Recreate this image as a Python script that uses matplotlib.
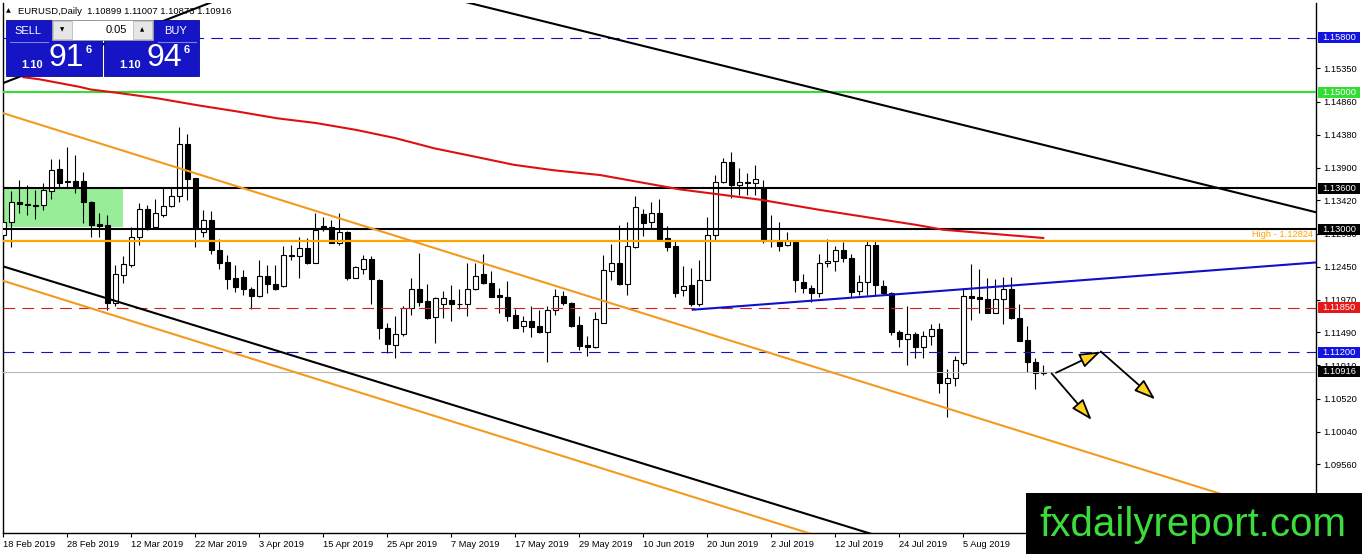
import matplotlib
matplotlib.use('Agg')
import matplotlib.pyplot as plt
from matplotlib.patches import Rectangle
from matplotlib.lines import Line2D
from matplotlib.transforms import IdentityTransform

W, H = 1362, 554
plt.rcParams['font.family'] = ['Liberation Sans', 'DejaVu Sans']

# ---------------- data (EURUSD daily, one bar per trading day from 18 Feb 2019) -------------
opens = [1.1291, 1.1311, 1.1340, 1.1337, 1.1335, 1.1335, 1.1356, 1.1388, 1.1370, 1.1370,
         1.1370, 1.1340, 1.1307, 1.1306, 1.1192, 1.1233, 1.1248, 1.1288, 1.1330, 1.1303,
         1.1321, 1.1334, 1.1348, 1.1424, 1.1374, 1.1295, 1.1313, 1.1270, 1.1252, 1.1228,
         1.1230, 1.1212, 1.1202, 1.1231, 1.1219, 1.1217, 1.1261, 1.1261, 1.1272, 1.1251,
         1.1305, 1.1303, 1.1280, 1.1295, 1.1229, 1.1241, 1.1256, 1.1226, 1.1155, 1.1131,
         1.1146, 1.1184, 1.1213, 1.1195, 1.1171, 1.1190, 1.1197, 1.1190, 1.1190, 1.1213,
         1.1234, 1.1221, 1.1203, 1.1200, 1.1174, 1.1159, 1.1165, 1.1158, 1.1149, 1.1181,
         1.1202, 1.1192, 1.1160, 1.1131, 1.1127, 1.1163, 1.1239, 1.1250, 1.1219, 1.1274,
         1.1322, 1.1310, 1.1324, 1.1287, 1.1275, 1.1211, 1.1218, 1.1191, 1.1226, 1.1292,
         1.1369, 1.1398, 1.1365, 1.1368, 1.1368, 1.1360, 1.1284, 1.1282, 1.1276, 1.1282,
         1.1223, 1.1214, 1.1206, 1.1250, 1.1253, 1.1270, 1.1257, 1.1209, 1.1222, 1.1277,
         1.1217, 1.1206, 1.1150, 1.1139, 1.1146, 1.1127, 1.1144, 1.1154, 1.1075, 1.1083,
         1.1104, 1.1202, 1.1200, 1.1198, 1.1178, 1.1198, 1.1212, 1.1170, 1.1138, 1.1105,
         1.10899]
highs = [1.1334, 1.1355, 1.1372, 1.1365, 1.1357, 1.1368, 1.1402, 1.1403, 1.1420, 1.1409,
         1.1383, 1.1341, 1.1324, 1.1321, 1.1248, 1.1260, 1.1303, 1.1338, 1.1335, 1.1344,
         1.1360, 1.1360, 1.1449, 1.1439, 1.1375, 1.1328, 1.1327, 1.1285, 1.1262, 1.1248,
         1.1240, 1.1215, 1.1255, 1.1248, 1.1248, 1.1275, 1.1277, 1.1288, 1.1287, 1.1324,
         1.1318, 1.1314, 1.1324, 1.1297, 1.1246, 1.1262, 1.1260, 1.1227, 1.1163, 1.1173,
         1.1187, 1.1228, 1.1265, 1.1219, 1.1200, 1.1210, 1.1218, 1.1213, 1.1250, 1.1250,
         1.1264, 1.1239, 1.1214, 1.1224, 1.1183, 1.1173, 1.1187, 1.1181, 1.1187, 1.1212,
         1.1209, 1.1194, 1.1173, 1.1144, 1.1179, 1.1262, 1.1278, 1.1306, 1.1311, 1.1348,
         1.1330, 1.1339, 1.1344, 1.1305, 1.1284, 1.1246, 1.1243, 1.1255, 1.1317, 1.1379,
         1.1404, 1.1412, 1.1390, 1.1382, 1.1394, 1.1372, 1.1321, 1.1311, 1.1295, 1.1284,
         1.1234, 1.1218, 1.1263, 1.1285, 1.1275, 1.1281, 1.1263, 1.1233, 1.1282, 1.1282,
         1.1226, 1.1208, 1.1152, 1.1187, 1.1150, 1.1151, 1.1161, 1.1162, 1.1095, 1.1115,
         1.1214, 1.1249, 1.1242, 1.1228, 1.1227, 1.1230, 1.1230, 1.1190, 1.1159, 1.1112,
         1.11007]
lows = [1.1277, 1.1274, 1.1324, 1.1321, 1.1315, 1.1328, 1.1344, 1.1362, 1.1362, 1.1353,
        1.1309, 1.1289, 1.1288, 1.1181, 1.1188, 1.1221, 1.1245, 1.1277, 1.1299, 1.1301,
        1.1318, 1.1332, 1.1340, 1.1343, 1.1274, 1.1289, 1.1263, 1.1242, 1.1212, 1.1208,
        1.1204, 1.1183, 1.1200, 1.1206, 1.1211, 1.1216, 1.1255, 1.1229, 1.1249, 1.1250,
        1.1297, 1.1279, 1.1277, 1.1226, 1.1228, 1.1235, 1.1191, 1.1140, 1.1119, 1.1111,
        1.1143, 1.1174, 1.1187, 1.1169, 1.1134, 1.1170, 1.1166, 1.1183, 1.1173, 1.1211,
        1.1219, 1.1200, 1.1178, 1.1166, 1.1155, 1.1150, 1.1142, 1.1148, 1.1106, 1.1174,
        1.1189, 1.1157, 1.1123, 1.1115, 1.1126, 1.1162, 1.1226, 1.1218, 1.1204, 1.1273,
        1.1290, 1.1301, 1.1285, 1.1268, 1.1201, 1.1202, 1.1187, 1.1187, 1.1225, 1.1284,
        1.1367, 1.1345, 1.1350, 1.1350, 1.1350, 1.1280, 1.1274, 1.1268, 1.1275, 1.1208,
        1.1207, 1.1194, 1.1201, 1.1245, 1.1238, 1.1252, 1.1201, 1.1204, 1.1204, 1.1204,
        1.1204, 1.1145, 1.1127, 1.1101, 1.1111, 1.1112, 1.1131, 1.1060, 1.1026, 1.1070,
        1.1102, 1.1167, 1.1178, 1.1177, 1.1177, 1.1161, 1.1169, 1.1136, 1.1091, 1.1066,
        1.10873]
closes = [1.1310, 1.1339, 1.1337, 1.1335, 1.1334, 1.1357, 1.1387, 1.1368, 1.1369, 1.1363,
          1.1339, 1.1306, 1.1305, 1.1192, 1.1234, 1.1249, 1.1288, 1.1330, 1.1303, 1.1324,
          1.1334, 1.1349, 1.1424, 1.1373, 1.1301, 1.1313, 1.1269, 1.1251, 1.1227, 1.1216,
          1.1212, 1.1202, 1.1231, 1.1219, 1.1212, 1.1262, 1.1262, 1.1272, 1.1251, 1.1299,
          1.1300, 1.1280, 1.1295, 1.1228, 1.1244, 1.1256, 1.1227, 1.1155, 1.1132, 1.1146,
          1.1185, 1.1213, 1.1194, 1.1170, 1.1199, 1.1199, 1.1190, 1.1191, 1.1213, 1.1231,
          1.1221, 1.1201, 1.1200, 1.1173, 1.1156, 1.1165, 1.1157, 1.1149, 1.1181, 1.1202,
          1.1192, 1.1158, 1.1129, 1.1127, 1.1168, 1.1240, 1.1250, 1.1219, 1.1275, 1.1332,
          1.1309, 1.1324, 1.1285, 1.1274, 1.1207, 1.1217, 1.1191, 1.1226, 1.1292, 1.1369,
          1.1398, 1.1365, 1.1369, 1.1369, 1.1373, 1.1284, 1.1283, 1.1275, 1.1282, 1.1225,
          1.1214, 1.1206, 1.1250, 1.1253, 1.1269, 1.1257, 1.1208, 1.1222, 1.1277, 1.1218,
          1.1206, 1.1150, 1.1139, 1.1146, 1.1127, 1.1143, 1.1154, 1.1075, 1.1083, 1.1109,
          1.1202, 1.1199, 1.1198, 1.1178, 1.1198, 1.1212, 1.1170, 1.1136, 1.1105, 1.1089,
          1.10916]

date_labels = ['18 Feb 2019', '28 Feb 2019', '12 Mar 2019', '22 Mar 2019', '3 Apr 2019',
               '15 Apr 2019', '25 Apr 2019', '7 May 2019', '17 May 2019', '29 May 2019',
               '10 Jun 2019', '20 Jun 2019', '2 Jul 2019', '12 Jul 2019', '24 Jul 2019',
               '5 Aug 2019']
price_ticks = [1.15350, 1.14860, 1.14380, 1.13900, 1.13420, 1.12930, 1.12450,
               1.11970, 1.11490, 1.11010, 1.10520, 1.10040, 1.09560, 1.09080]

# red moving average (bar index, value)
ma_x = [2.5, 4.5, 9.5, 10.95, 14.4, 19.35, 24.3, 29.2, 34.2, 39.1, 44.1, 49.0, 53.9,
        58.9, 63.8, 68.8, 74.6, 84.6, 94.6, 102.1, 114.2, 117.5, 130]
ma_y = [1.1522, 1.1519, 1.1508, 1.1504, 1.1499, 1.1491, 1.1481, 1.1472, 1.1462, 1.1455,
        1.1445, 1.1433, 1.1418, 1.1406, 1.1394, 1.1386, 1.1379, 1.1358, 1.1343, 1.1328,
        1.1306, 1.1299, 1.1287]

# trend lines: (x0, y0, x1, y1) in bar index / price
black_top = (55, 1.1640, 165, 1.1322)
black_topleft = (-1, 1.1509, 27, 1.1636)
black_low = (-1, 1.1249, 110, 1.0849)
orange_up = (-1, 1.1473, 165, 1.0866)
orange_low = (-1, 1.1228, 103, 1.0847)
blue_up = (86.05, 1.1182, 165, 1.1252)

# projection arrows
arrows = [((131.6, 1.1090), (137.2, 1.1121)),
          ((137.2, 1.1121), (144.0, 1.1051)),
          ((131.05, 1.1089), (136.05, 1.1021))]

# support box
zone_x = (-0.5, 15.0)
zone_y = (1.1303, 1.1359)

# horizontal levels: price, colour, style, width, label-box colour
levels = [(1.15800, '#1212C0', 'dash', 0.8, '#1414E0'),
          (1.15000, '#33DD33', 'solid', 1.5, '#33DD33'),
          (1.13600, 'black', 'solid', 1.5, 'black'),
          (1.13000, 'black', 'solid', 1.5, 'black'),
          (1.11850, '#CC1F1F', 'dash', 0.8, '#E41818'),
          (1.11200, '#1212C0', 'dash', 0.8, '#1414E0')]
high_level = 1.12824
last_price = 1.10916

# ---------------- figure ----------------
fig = plt.figure(figsize=(W / 100, H / 100), dpi=100)
fig.patch.set_facecolor('white')
ax = fig.add_axes([3 / W, 21 / H, 1313 / W, 530 / H])
ax.set_xlim(-0.04, 164.1)
ax.set_ylim(1.08557, 1.16305)
ax.set_facecolor('white')

for s in ['left', 'right', 'bottom']:
    ax.spines[s].set_color('black')
    ax.spines[s].set_linewidth(1.0)
ax.spines['top'].set_visible(False)

ax.yaxis.tick_right()
ax.set_yticks(price_ticks)
ax.set_yticklabels([f'{v:.5f}' for v in price_ticks])
ax.tick_params(axis='y', direction='out', length=3, width=0.8, pad=2, labelsize=6.7)
ax.xaxis.tick_bottom()
ax.set_xticks(list(range(0, 8 * len(date_labels), 8)))
ax.set_xticklabels(date_labels)
ax.tick_params(axis='x', direction='out', length=3, width=0.8, pad=2, labelsize=6.7)
for lbl in ax.get_xticklabels():
    lbl.set_ha('left')

# zone rectangle
ax.add_patch(Rectangle((zone_x[0], zone_y[0]), zone_x[1] - zone_x[0], zone_y[1] - zone_y[0],
                       facecolor='#98EE98', edgecolor='none', zorder=1))

# candles
idx = list(range(len(opens)))
ax.vlines(idx, lows, highs, color='black', lw=0.8, zorder=3)
bottoms = [min(o, c) for o, c in zip(opens, closes)]
heights = [max(abs(c - o), 0.00004) for o, c in zip(opens, closes)]
cols = ['white' if c >= o else 'black' for o, c in zip(opens, closes)]
ax.bar(idx, heights, bottom=bottoms, width=0.6, color=cols, edgecolor='black',
       linewidth=0.8, zorder=4)

# horizontal levels
for p, c, st, lw, bc in levels:
    ls = (0, (10.5, 6.5)) if st == 'dash' else '-'
    ax.axhline(p, color=c, lw=lw, ls=ls, zorder=5)
ax.axhline(high_level, color='#FFA500', lw=1.6, zorder=5)
ax.axhline(last_price, color='#B8B8B8', lw=0.8, zorder=5)
ax.annotate('High - 1.12824', xy=(1, high_level), xycoords=('axes fraction', 'data'),
            xytext=(-2, 1.2), textcoords='offset points', ha='right', va='bottom',
            color='#FFA500', fontsize=6.7, zorder=6)

# trend lines and MA
for (x0, y0, x1, y1), c in [(black_top, 'black'), (black_topleft, 'black'),
                            (black_low, 'black'), (orange_up, '#F39A1E'),
                            (orange_low, '#F39A1E'), (blue_up, '#1010C8')]:
    ax.plot([x0, x1], [y0, y1], color=c, lw=1.5, zorder=5, solid_capstyle='butt')
ax.plot(ma_x, ma_y, color='#DD1111', lw=1.5, zorder=5, solid_joinstyle='round')

for start, tip in arrows:
    ax.annotate('', xy=tip, xytext=start,
                arrowprops=dict(arrowstyle='-|>,head_length=1.3,head_width=0.45',
                                fc='#FFD21E', ec='black', lw=1.3, shrinkA=0, shrinkB=0,
                                mutation_scale=10), zorder=7)

# ---------------- overlays in pixel coordinates ----------------
IT = IdentityTransform()


def frect(x, y, w, h, **kw):
    fig.add_artist(Rectangle((x, H - y - h), w, h, transform=IT, **kw))


def ftext(x, y, s, **kw):
    fig.text(x, H - y, s, transform=IT, **kw)


def fline(xs, ys, **kw):
    fig.add_artist(Line2D(xs, [H - v for v in ys], transform=IT, **kw))


# right-axis price boxes
def ypix(p):
    return ax.transData.transform((0, p))[1]


for p, c, st, lw, bc in levels + [(last_price, None, None, None, 'black')]:
    yp = ypix(p)
    fig.add_artist(Rectangle((1318, yp - 5.5), 42, 11, transform=IT, facecolor=bc,
                             edgecolor='none', zorder=20))
    fig.text(1339, yp, f'{p:.5f}', transform=IT, ha='center', va='center',
             color='white', fontsize=6.7, zorder=21)

# header line
ftext(8, 11, '\u25b2', ha='center', va='center', fontsize=4.5, color='black', zorder=20,
      family=['DejaVu Sans'])
ftext(18, 11, 'EURUSD,Daily  1.10899 1.11007 1.10873 1.10916', ha='left', va='center',
      fontsize=6.8, color='black', zorder=20)

# one-click trading panel
frect(6, 20, 96, 56, facecolor='#1515C6', edgecolor='#0A0A90', lw=0.6, zorder=20)
frect(104, 20, 95, 56, facecolor='#1515C6', edgecolor='#0A0A90', lw=0.6, zorder=20)
frect(52, 20, 101, 20, facecolor='white', edgecolor='#9A9A9A', lw=0.6, zorder=21)
frect(53, 21, 19, 18, facecolor='#E6E6E6', edgecolor='#B0B0B0', lw=0.5, zorder=22)
frect(133, 21, 19, 18, facecolor='#E6E6E6', edgecolor='#B0B0B0', lw=0.5, zorder=22)
ftext(62.5, 30, '\u25bc', ha='center', va='center', fontsize=4, color='black', zorder=23,
      family=['DejaVu Sans'])
ftext(142.5, 30, '\u25b2', ha='center', va='center', fontsize=4, color='black', zorder=23,
      family=['DejaVu Sans'])
ftext(127, 30, '0.05', ha='right', va='center', fontsize=8, color='black', zorder=23)
ftext(27.5, 31, 'SELL', ha='center', va='center', fontsize=8, color='white', zorder=23)
ftext(176, 31, 'BUY', ha='center', va='center', fontsize=8, color='white', zorder=23)
fline([10, 48], [42, 42], color='#7D7DE8', lw=0.8, zorder=23)
fline([158, 196], [42, 42], color='#7D7DE8', lw=0.8, zorder=23)
for x0, big in [(6, '91'), (104, '94')]:
    ftext(x0 + 26, 65, '1.10', ha='center', va='center', fontsize=8, fontweight='bold',
          color='white', zorder=23)
    ftext(x0 + 60, 58, big, ha='center', va='center', fontsize=23, color='white', zorder=23)
    ftext(x0 + 83, 50, '6', ha='center', va='center', fontsize=8, fontweight='bold',
          color='white', zorder=23)

# watermark
frect(1026, 493, 336, 61, facecolor='black', edgecolor='none', zorder=30)
ftext(1193, 536, 'fxdailyreport.com', ha='center', va='baseline', fontsize=29,
      color='#3CDC3C', zorder=31)

fig.savefig('out.png', dpi=100, facecolor='white')
